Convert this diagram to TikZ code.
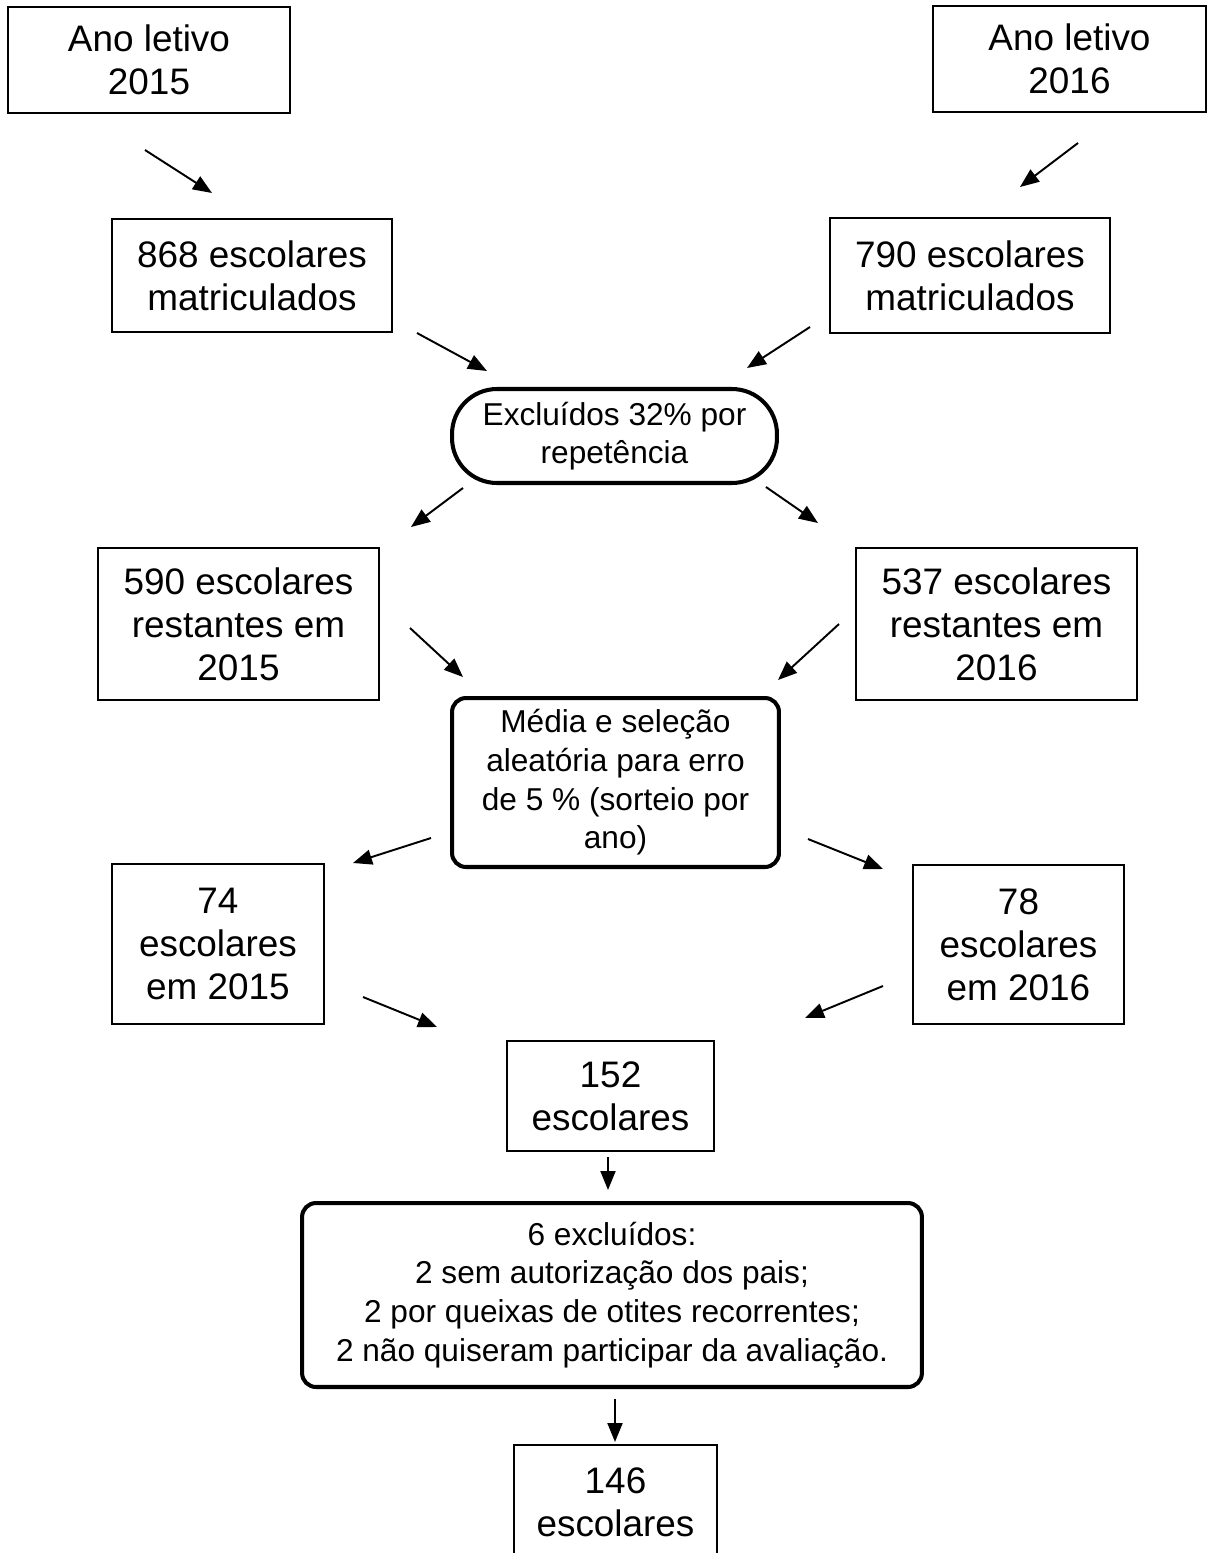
\documentclass[tikz,border=0pt]{standalone}
\usepackage{fontspec}
\setmainfont{Liberation Sans}
\usepackage{tikz}
\usetikzlibrary{arrows.meta}

\newcommand{\bigtxt}{\fontsize{21}{24.5}\selectfont}
\newcommand{\smalltxt}{\fontsize{18}{22}\selectfont}

\tikzset{
 box/.style={draw, line width=0.85pt, align=center, inner sep=0pt, font=\bigtxt},
 roundbox/.style={draw, line width=2.3pt, rounded corners=0.28cm, align=center, inner sep=0pt, font=\smalltxt},
 arr/.style={-{Triangle[length=0.38cm,width=0.3cm]}, line width=1.1pt}
}

\begin{document}
\begin{tikzpicture}[x=0.02cm,y=-0.02cm]
 \useasboundingbox (0,0) rectangle (1214,1553);

 \node [box,minimum width=5.64cm,minimum height=2.12cm] (ano15) at (149,60) {Ano letivo\\2015};
 \node [box,minimum width=5.46cm,minimum height=2.12cm] (ano16) at (1069.5,59) {Ano letivo\\2016};

 \node [box,minimum width=5.6cm,minimum height=2.26cm] (mat15) at (252,275.5) {868 escolares\\matriculados};
 \node [box,minimum width=5.6cm,minimum height=2.3cm] (mat16) at (970,275.5) {790 escolares\\matriculados};

 \node [roundbox,rounded corners=0.9cm,minimum width=6.5cm,minimum height=1.88cm] (repet) at (614.5,436) {Excluídos 32\% por\\repetência};

 \node [box,minimum width=5.62cm,minimum height=3.04cm] (rest15) at (238.5,624) {590 escolares\\restantes em\\2015};
 \node [box,minimum width=5.62cm,minimum height=3.04cm] (rest16) at (996.5,624) {537 escolares\\restantes em\\2016};

 \node [roundbox,minimum width=6.54cm,minimum height=3.38cm] (sorteio) at (615.5,782.5) {Média e seleção\\aleatória para erro\\de 5 \% (sorteio por\\ano)};

 \node [box,minimum width=4.24cm,minimum height=3.2cm] (esc15) at (218,944) {74\\escolares\\em 2015};
 \node [box,minimum width=4.22cm,minimum height=3.18cm] (esc16) at (1018.5,944.5) {78\\escolares\\em 2016};

 \node [box,minimum width=4.14cm,minimum height=2.2cm] (total) at (610.5,1096) {152\\escolares};

 \node [roundbox,minimum width=12.4cm,minimum height=3.68cm] (excl) at (612,1295) {6 excluídos:\\2 sem autorização dos pais;\\2 por queixas de otites recorrentes;\\2 não quiseram participar da avaliação.};

 \node [box,minimum width=4.06cm,minimum height=2.28cm] (final) at (615.5,1502) {146\\escolares};

 \coordinate (a1) at (145,150);  \coordinate (b1) at (212,193);
 \coordinate (a2) at (1078,143); \coordinate (b2) at (1020,187);
 \coordinate (a3) at (417,333);  \coordinate (b3) at (487,371);
 \coordinate (a4) at (810,327);  \coordinate (b4) at (747,368);
 \coordinate (a5) at (463,488);  \coordinate (b5) at (411,527);
 \coordinate (a6) at (766,487);  \coordinate (b6) at (818,523);
 \coordinate (a7) at (410,628);  \coordinate (b7) at (463,677);
 \coordinate (a8) at (839,624);  \coordinate (b8) at (778,680);
 \coordinate (a9) at (431,838);  \coordinate (b9) at (353,863);
 \coordinate (a10) at (808,839); \coordinate (b10) at (883,869);
 \coordinate (a11) at (363,997); \coordinate (b11) at (437,1027);
 \coordinate (a12) at (883,986); \coordinate (b12) at (805,1018);
 \coordinate (a13) at (608,1157); \coordinate (b13) at (608,1190);
 \coordinate (a14) at (615,1399); \coordinate (b14) at (615,1442);

 \draw [arr] (a1) -- (b1);
 \draw [arr] (a2) -- (b2);
 \draw [arr] (a3) -- (b3);
 \draw [arr] (a4) -- (b4);
 \draw [arr] (a5) -- (b5);
 \draw [arr] (a6) -- (b6);
 \draw [arr] (a7) -- (b7);
 \draw [arr] (a8) -- (b8);
 \draw [arr] (a9) -- (b9);
 \draw [arr] (a10) -- (b10);
 \draw [arr] (a11) -- (b11);
 \draw [arr] (a12) -- (b12);
 \draw [arr] (a13) -- (b13);
 \draw [arr] (a14) -- (b14);
\end{tikzpicture}
\end{document}
